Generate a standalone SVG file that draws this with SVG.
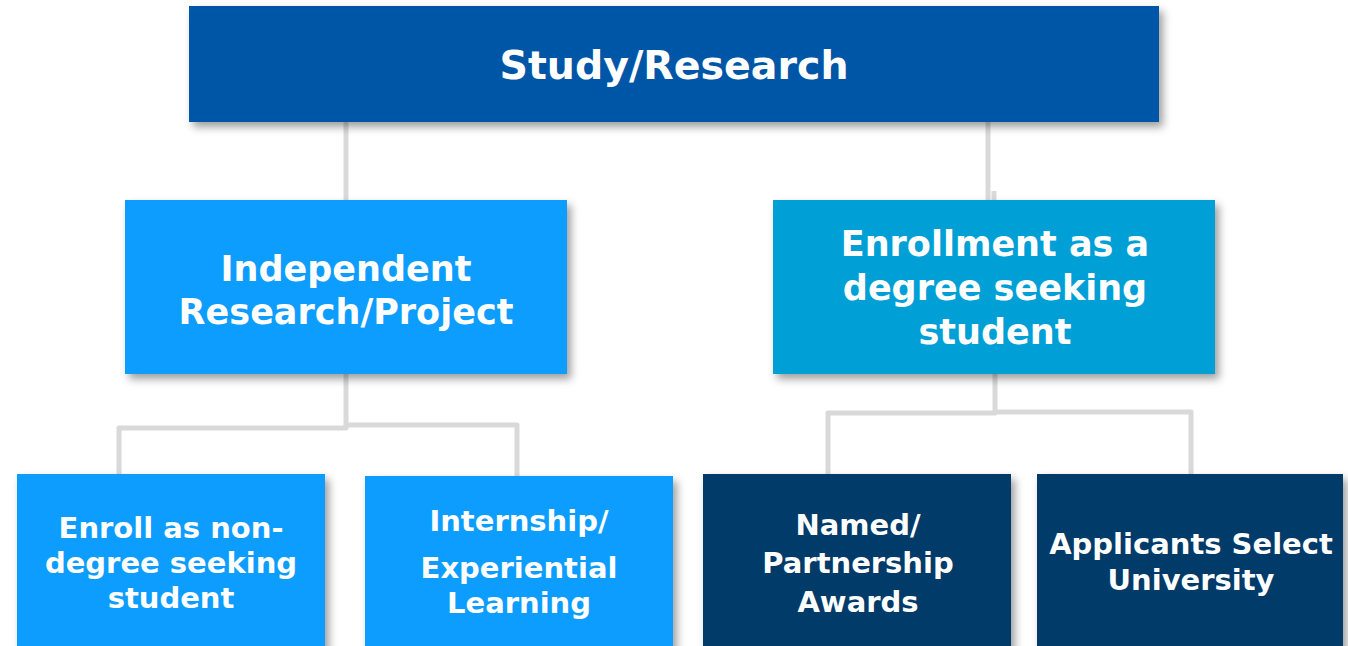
<svg xmlns="http://www.w3.org/2000/svg" width="1348" height="646" viewBox="0 0 1348 646">
<defs>
<filter id="sh" x="-10%" y="-10%" width="125%" height="140%">
<feDropShadow dx="4" dy="5" stdDeviation="4.5" flood-color="#000" flood-opacity="0.38"/>
</filter>
<style>
.t{font-family:"DejaVu Sans","Liberation Sans",sans-serif;font-weight:700;fill:#fff;text-anchor:middle}
.t1{font-size:39.5px}
.t2{font-size:35px}
.t3{font-size:29px}
.c{fill:none;stroke:#D9D9D9;stroke-width:5;stroke-linejoin:round}
</style>
</defs>
<rect width="1348" height="646" fill="#fff"/>
<g id="connectors">
<path class="c" d="M346 122V200"/>
<path class="c" d="M988 122V200"/>
<path class="c" d="M994 191V200"/>
<path class="c" d="M346 374V428H119V474"/>
<path class="c" d="M346 425H517V476"/>
<path class="c" d="M995 374V413H828V474"/>
<path class="c" d="M995 412H1191V474"/>
</g>
<g id="n-root">
<rect x="189" y="6" width="970" height="116" fill="#0057A6" filter="url(#sh)"/>
<text class="t t1" x="674" y="79">Study/Research</text>
</g>
<g id="n-independent">
<rect x="125" y="200" width="442" height="174" fill="#0B9DFF" filter="url(#sh)"/>
<text class="t t2" x="346" y="281">Independent</text>
<text class="t t2" x="346" y="324">Research/Project</text>
</g>
<g id="n-enrollment">
<rect x="773" y="200" width="442" height="174" fill="#009FD6" filter="url(#sh)"/>
<text class="t t2" x="995" y="256">Enrollment as a</text>
<text class="t t2" x="995" y="300">degree seeking</text>
<text class="t t2" x="995" y="344">student</text>
</g>
<g id="n-nondegree">
<rect x="17" y="474" width="308" height="180" fill="#0B9DFF" filter="url(#sh)"/>
<text class="t t3" x="171" y="538">Enroll as non-</text>
<text class="t t3" x="171" y="573">degree seeking</text>
<text class="t t3" x="171" y="608">student</text>
</g>
<g id="n-internship">
<rect x="365" y="476" width="308" height="180" fill="#0B9DFF" filter="url(#sh)"/>
<text class="t t3" x="519" y="531">Internship/</text>
<text class="t t3" x="519" y="578">Experiential</text>
<text class="t t3" x="519" y="613">Learning</text>
</g>
<g id="n-named">
<rect x="703" y="474" width="308" height="180" fill="#003B69" filter="url(#sh)"/>
<text class="t t3" x="858" y="535">Named/</text>
<text class="t t3" x="858" y="573">Partnership</text>
<text class="t t3" x="858" y="612">Awards</text>
</g>
<g id="n-applicants">
<rect x="1037" y="474" width="306" height="180" fill="#003B69" filter="url(#sh)"/>
<text class="t t3" x="1191" y="554">Applicants Select</text>
<text class="t t3" x="1191" y="590">University</text>
</g>
</svg>
